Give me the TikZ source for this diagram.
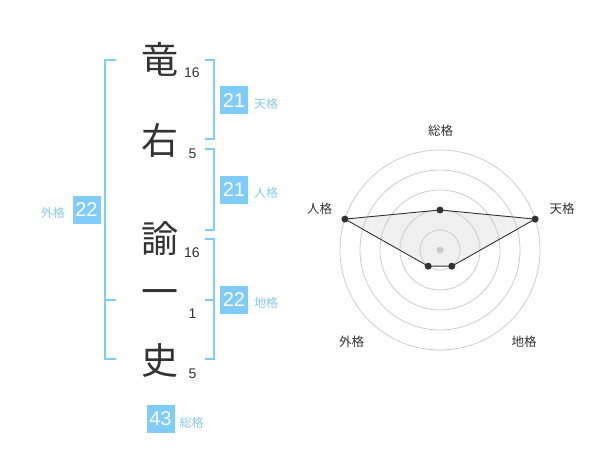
\documentclass[tikz,border=0pt]{standalone}
\usepackage{fontspec}
\setmainfont{Liberation Sans}
\newfontfamily\jp{Noto Sans CJK JP}
\definecolor{gblue}{HTML}{80CCF8}
\definecolor{glab}{HTML}{86C9EE}
\definecolor{ink}{HTML}{333333}
\definecolor{ring}{HTML}{CCCCCC}
\definecolor{polyfill}{HTML}{F0F0F0}
\tikzset{
  kanji/.style={inner sep=0pt, text=ink, font=\jp\fontsize{37}{37}\selectfont},
  strokes/.style={inner sep=0pt, text=ink, font=\fontsize{14}{14}\selectfont},
  gbox/.style={fill=gblue, text=white, minimum width=28pt, minimum height=28pt, inner sep=0pt, font=\fontsize{20}{20}\selectfont},
  glabel/.style={inner sep=0pt, text=glab, font=\jp\fontsize{12}{12}\selectfont},
  rlabel/.style={inner sep=0pt, text=ink, font=\jp\fontsize{12.5}{12.5}\selectfont},
  brk/.style={draw=gblue, line width=2pt},
  dotpt/.style={circle, fill=ink, inner sep=0pt, minimum size=7pt},
}
\begin{document}
\begin{tikzpicture}[x=1pt,y=-1pt]
\useasboundingbox (0,0) rectangle (600,470);
% characters
\node[kanji] (c1) at (160,59) {竜};
\node[kanji] (c2) at (160,140) {右};
\node[kanji] (c3) at (160,239) {諭};
\node[kanji] (c4) at (160,298) {一};
\node[kanji] (c5) at (160,361) {史};
% stroke counts
\node[strokes] (n1) at (192,73) {16};
\node[strokes] (n2) at (192.5,153.5) {5};
\node[strokes] (n3) at (192,252.5) {16};
\node[strokes] (n4) at (192.5,313.5) {1};
\node[strokes] (n5) at (192.5,373.5) {5};
% brackets
\coordinate (la) at (116,60); \coordinate (lb) at (105,60);
\coordinate (lc) at (105,359); \coordinate (ld) at (116,359);
\coordinate (lm1) at (105,300); \coordinate (lm2) at (116,300);
\draw[brk] (la) -- (lb) -- (lc) -- (ld);
\draw[brk] (lm1) -- (lm2);
\coordinate (ta) at (205,60); \coordinate (tb) at (214,60);
\coordinate (tc) at (214,139); \coordinate (td) at (205,139);
\draw[brk] (ta) -- (tb) -- (tc) -- (td);
\coordinate (ha) at (205,149); \coordinate (hb) at (214,149);
\coordinate (hc) at (214,230); \coordinate (hd) at (205,230);
\draw[brk] (ha) -- (hb) -- (hc) -- (hd);
\coordinate (ea) at (205,239); \coordinate (eb) at (214,239);
\coordinate (ec) at (214,359); \coordinate (ed) at (205,359);
\coordinate (em1) at (205,300); \coordinate (em2) at (214,300);
\draw[brk] (ea) -- (eb) -- (ec) -- (ed);
\draw[brk] (em1) -- (em2);
% boxes and labels
\node[gbox] (b1) at (234,100.5) {21};
\node[glabel, anchor=west] (l1) at (254,104) {天格};
\node[gbox] (b2) at (234,190) {21};
\node[glabel, anchor=west] (l2) at (254,193) {人格};
\node[gbox] (b3) at (234,300) {22};
\node[glabel, anchor=west] (l3) at (254,302.5) {地格};
\node[gbox] (b4) at (86.5,210) {22};
\node[glabel, anchor=east] (l4) at (65,213) {外格};
\node[gbox] (b5) at (160.5,419) {43};
\node[glabel, anchor=west] (l5) at (179.5,422.5) {総格};
% radar
\coordinate (ctr) at (440,250);
\coordinate (pS) at (440,210);
\coordinate (pT) at (535.1,219.1);
\coordinate (pC) at (451.8,266.2);
\coordinate (pG) at (428.2,266.2);
\coordinate (pJ) at (344.9,219.1);
\fill[polyfill] (pS) -- (pT) -- (pC) -- (pG) -- (pJ) -- cycle;
\foreach \r in {20,40,60,80,100} \draw[ring, line width=0.8pt] (ctr) circle[radius=\r];
\draw[ink, line width=0.9pt] (pS) -- (pT) -- (pC) -- (pG) -- (pJ) -- cycle;
\node[circle, fill=ring, inner sep=0pt, minimum size=7pt] (dc) at (ctr) {};
\node[dotpt] (dS) at (pS) {};
\node[dotpt] (dT) at (pT) {};
\node[dotpt] (dC) at (pC) {};
\node[dotpt] (dG) at (pG) {};
\node[dotpt] (dJ) at (pJ) {};
\node[rlabel] (rS) at (440.5,130.5) {総格};
\node[rlabel] (rT) at (562,208.5) {天格};
\node[rlabel] (rJ) at (319.5,208.5) {人格};
\node[rlabel] (rG) at (351.5,341.5) {外格};
\node[rlabel] (rC) at (524,341.5) {地格};
\end{tikzpicture}
\end{document}
